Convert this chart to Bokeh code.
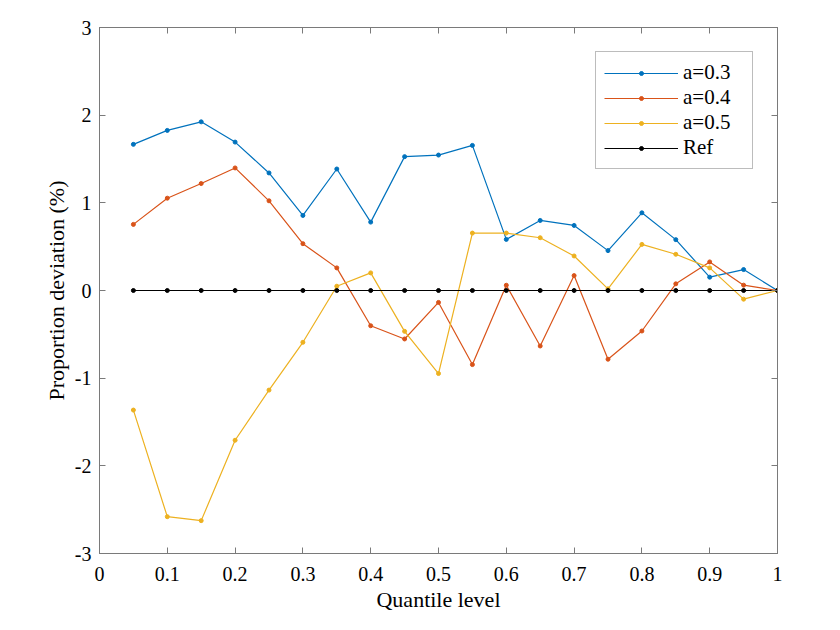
from bokeh.plotting import figure
from bokeh.models import LinearAxis, FixedTicker, Range1d, Legend, LegendItem
from bokeh.embed import file_html
from bokeh.resources import INLINE

quantiles = [0.05, 0.10, 0.15, 0.20, 0.25, 0.30, 0.35, 0.40, 0.45, 0.50,
             0.55, 0.60, 0.65, 0.70, 0.75, 0.80, 0.85, 0.90, 0.95, 1.00]
a03 = [1.667, 1.826, 1.924, 1.693, 1.341, 0.856, 1.386, 0.780, 1.527, 1.545,
       1.655, 0.583, 0.799, 0.742, 0.455, 0.886, 0.580, 0.152, 0.239, 0.0]
a04 = [0.754, 1.053, 1.220, 1.398, 1.023, 0.534, 0.258, -0.402, -0.553, -0.136,
       -0.845, 0.060, -0.633, 0.170, -0.784, -0.462, 0.076, 0.326, 0.061, 0.0]
a05 = [-1.364, -2.580, -2.625, -1.708, -1.136, -0.591, 0.049, 0.201, -0.466, -0.947,
       0.655, 0.655, 0.602, 0.394, 0.019, 0.526, 0.413, 0.258, -0.099, 0.0]
ref = [0.0] * 20
series_names = ["a=0.3", "a=0.4", "a=0.5", "Ref"]
series_colors = ["#0072BD", "#D95319", "#EDB120", "#000000"]
x_ticks = [0, 0.1, 0.2, 0.3, 0.4, 0.5, 0.6, 0.7, 0.8, 0.9, 1]
x_tick_labels = ["0", "0.1", "0.2", "0.3", "0.4", "0.5", "0.6", "0.7", "0.8", "0.9", "1"]
y_ticks = [-3, -2, -1, 0, 1, 2, 3]
y_tick_labels = ["-3", "-2", "-1", "0", "1", "2", "3"]

FONT = "'Liberation Serif'"
AXC = "#7a7a7a"

p = figure(width=824, height=614, output_backend="svg", toolbar_location=None,
           x_range=Range1d(0, 1), y_range=Range1d(-3, 3),
           min_border_left=99, min_border_right=47, min_border_top=27, min_border_bottom=61)
p.grid.visible = False
p.outline_line_color = AXC
p.outline_line_width = 1
p.background_fill_color = "white"
p.border_fill_color = "white"

def style_axis(ax):
    ax.axis_line_color = AXC
    ax.major_tick_line_color = AXC
    ax.major_tick_in = 6
    ax.major_tick_out = 0
    ax.minor_tick_line_color = None
    ax.major_label_text_font = FONT
    ax.major_label_text_font_style = "normal"
    ax.major_label_text_color = "black"
    ax.major_label_text_font_size = "20px"

xa = p.xaxis[0]
xa.ticker = FixedTicker(ticks=x_ticks)
xa.major_label_overrides = {t: l for t, l in zip(x_ticks, x_tick_labels)}
style_axis(xa)
xa.major_label_standoff = 13
xa.axis_label = "Quantile level"
xa.axis_label_text_font = FONT
xa.axis_label_text_font_style = "normal"
xa.axis_label_text_color = "black"
xa.axis_label_text_font_size = "22px"
xa.axis_label_standoff = 3

ya = p.yaxis[0]
ya.ticker = FixedTicker(ticks=y_ticks)
ya.major_label_overrides = {t: l for t, l in zip(y_ticks, y_tick_labels)}
style_axis(ya)
ya.major_label_standoff = 8
ya.axis_label = "Proportion deviation (%)"
ya.axis_label_text_font = FONT
ya.axis_label_text_font_style = "normal"
ya.axis_label_text_color = "black"
ya.axis_label_text_font_size = "22px"
ya.axis_label_standoff = 3

top_ax = LinearAxis(ticker=FixedTicker(ticks=x_ticks))
style_axis(top_ax)
top_ax.major_label_overrides = {t: "" for t in x_ticks}
top_ax.major_label_text_font_size = "1px"
top_ax.major_label_standoff = 0
p.add_layout(top_ax, "above")
right_ax = LinearAxis(ticker=FixedTicker(ticks=y_ticks))
style_axis(right_ax)
right_ax.major_label_overrides = {t: "" for t in y_ticks}
right_ax.major_label_text_font_size = "1px"
right_ax.major_label_standoff = 0
p.add_layout(right_ax, "right")

items = []
for name, col, ys in zip(series_names, series_colors, [a03, a04, a05, ref]):
    r1 = p.line(quantiles, ys, line_color=col, line_width=1.2)
    r2 = p.scatter(quantiles, ys, marker="circle", size=4, fill_color=col, line_color=col)
    items.append(LegendItem(label=name, renderers=[r1, r2]))

legend = Legend(items=items, location=(496, 384))
legend.label_text_font = FONT
legend.label_text_font_style = "normal"
legend.label_text_font_size = "21px"
legend.label_text_color = "black"
legend.glyph_width = 74
legend.glyph_height = 10
legend.label_height = 25
legend.label_width = 61
legend.label_standoff = 5
legend.spacing = 0
legend.padding = 8
legend.margin = 0
legend.border_line_color = AXC
legend.border_line_width = 1
legend.background_fill_color = "white"
legend.background_fill_alpha = 1
p.add_layout(legend, "center")

open("out.html", "w").write(file_html(p, INLINE))
